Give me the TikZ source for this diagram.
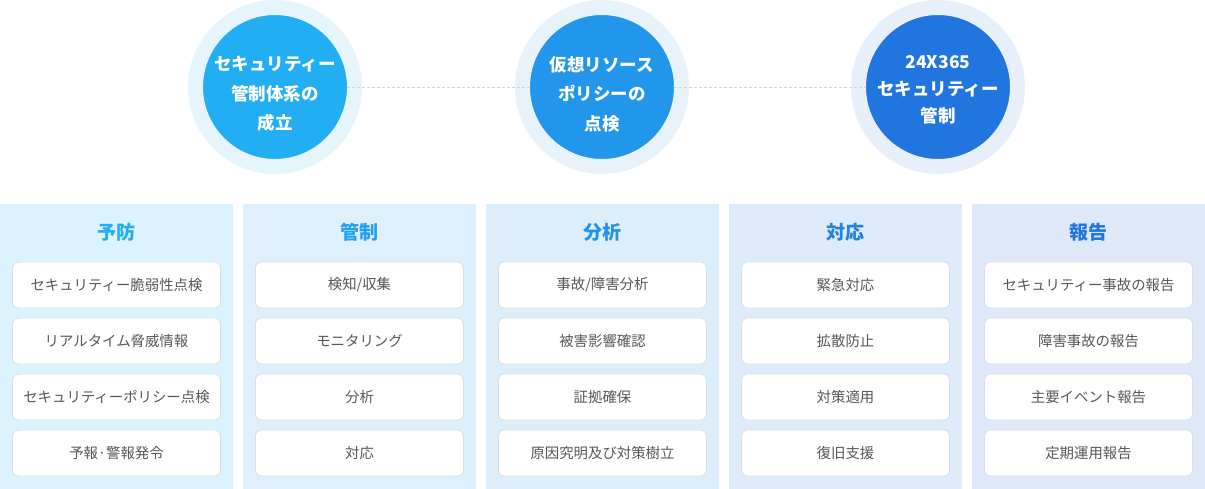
\documentclass[tikz,border=0pt]{standalone}
\usepackage{fontspec}
\setmainfont{Noto Sans CJK JP}
\usetikzlibrary{positioning,calc,backgrounds}

\definecolor{circleone}{RGB}{34,174,242}
\definecolor{circletwo}{RGB}{33,150,235}
\definecolor{circlethree}{RGB}{32,117,222}
\definecolor{haloone}{RGB}{230,244,252}
\definecolor{halotwo}{RGB}{231,242,251}
\definecolor{halothree}{RGB}{231,240,250}
\definecolor{panelone}{RGB}{220,243,253}
\definecolor{paneltwo}{RGB}{221,240,252}
\definecolor{panelthree}{RGB}{221,238,251}
\definecolor{panelfour}{RGB}{222,235,250}
\definecolor{panelfive}{RGB}{222,232,248}
\definecolor{titletwo}{RGB}{34,160,238}
\definecolor{titlethree}{RGB}{33,147,234}
\definecolor{titlefour}{RGB}{32,132,228}
\definecolor{itemtext}{RGB}{88,88,88}
\definecolor{itemborder}{RGB}{218,222,226}
\definecolor{dashgrey}{RGB}{208,213,219}

\tikzset{
  stagecircle/.style={circle, inner sep=0pt, minimum size=159pt, line width=15pt},
  stagetext/.style={inner sep=0pt, text=white, align=center, font=\bfseries\fontsize{17.5}{29.5}\selectfont},
  panelbox/.style={rectangle, inner sep=0pt, outer sep=0pt, minimum width=233pt, minimum height=285pt},
  paneltitle/.style={inner sep=0pt, font=\bfseries\fontsize{19}{22}\selectfont},
  itembox/.style={rectangle, rounded corners=6pt, draw=itemborder, fill=white, line width=0.8pt,
    outer sep=0pt, minimum width=208pt, minimum height=46pt, text=itemtext,
    font=\fontsize{14.4}{17}\selectfont},
  linkline/.style={draw=dashgrey, dashed, dash pattern=on 3pt off 2pt, line width=0.7pt}
}

\begin{document}
\begin{tikzpicture}[x=1pt, y=-1pt]
  \useasboundingbox (0,0) rectangle (1205,489);

  % stages on top
  \node[stagecircle, fill=circleone, draw=haloone] (c1) at (275,87) {};
  \node[stagecircle, fill=circletwo, draw=halotwo] (c2) at (602,87) {};
  \node[stagecircle, fill=circlethree, draw=halothree] (c3) at (938,87) {};
  \draw[linkline, shorten <=-15pt, shorten >=-15pt] (c1) -- (c2);
  \draw[linkline, shorten <=-15pt, shorten >=-15pt] (c2) -- (c3);
  \node[stagetext] (s1) at ([yshift=-7pt]c1.center) {セキュリティー\\管制体系の\\成立};
  \node[stagetext] (s2) at ([yshift=-7pt]c2.center) {仮想リソース\\ポリシーの\\点検};
  \node[stagetext, font=\bfseries\fontsize{17.5}{27}\selectfont] (s3) at ([yshift=-3pt]c3.center) {24X365\\セキュリティー\\管制};

  % panel backgrounds
  \node[panelbox, fill=panelone] (p1) at (116.5,346.5) {};
  \node[panelbox, fill=paneltwo] (p2) at (359.5,346.5) {};
  \node[panelbox, fill=panelthree] (p3) at (602.5,346.5) {};
  \node[panelbox, fill=panelfour] (p4) at (845.5,346.5) {};
  \node[panelbox, fill=panelfive] (p5) at (1088.5,346.5) {};

  % prevention
  \node[paneltitle, text=circleone] (t1) at ([yshift=-28pt]p1.north) {予防};
  \node[itembox] (b11) at ([yshift=-81pt]p1.north) {セキュリティー脆弱性点検};
  \node[itembox, below=10pt of b11] (b12) {リアルタイム脅威情報};
  \node[itembox, below=10pt of b12] (b13) {セキュリティーポリシー点検};
  \node[itembox, below=10pt of b13] (b14) {予報·警報発令};

  % control
  \node[paneltitle, text=titletwo] (t2) at ([yshift=-28pt]p2.north) {管制};
  \node[itembox] (b21) at ([yshift=-81pt]p2.north) {検知/収集};
  \node[itembox, below=10pt of b21] (b22) {モニタリング};
  \node[itembox, below=10pt of b22] (b23) {分析};
  \node[itembox, below=10pt of b23] (b24) {対応};

  % analysis
  \node[paneltitle, text=titlethree] (t3) at ([yshift=-28pt]p3.north) {分析};
  \node[itembox] (b31) at ([yshift=-81pt]p3.north) {事故/障害分析};
  \node[itembox, below=10pt of b31] (b32) {被害影響確認};
  \node[itembox, below=10pt of b32] (b33) {証拠確保};
  \node[itembox, below=10pt of b33] (b34) {原因究明及び対策樹立};

  % response
  \node[paneltitle, text=titlefour] (t4) at ([yshift=-28pt]p4.north) {対応};
  \node[itembox] (b41) at ([yshift=-81pt]p4.north) {緊急対応};
  \node[itembox, below=10pt of b41] (b42) {拡散防止};
  \node[itembox, below=10pt of b42] (b43) {対策適用};
  \node[itembox, below=10pt of b43] (b44) {復旧支援};

  % report
  \node[paneltitle, text=circlethree] (t5) at ([yshift=-28pt]p5.north) {報告};
  \node[itembox] (b51) at ([yshift=-81pt]p5.north) {セキュリティー事故の報告};
  \node[itembox, below=10pt of b51] (b52) {障害事故の報告};
  \node[itembox, below=10pt of b52] (b53) {主要イベント報告};
  \node[itembox, below=10pt of b53] (b54) {定期運用報告};
\end{tikzpicture}
\end{document}
